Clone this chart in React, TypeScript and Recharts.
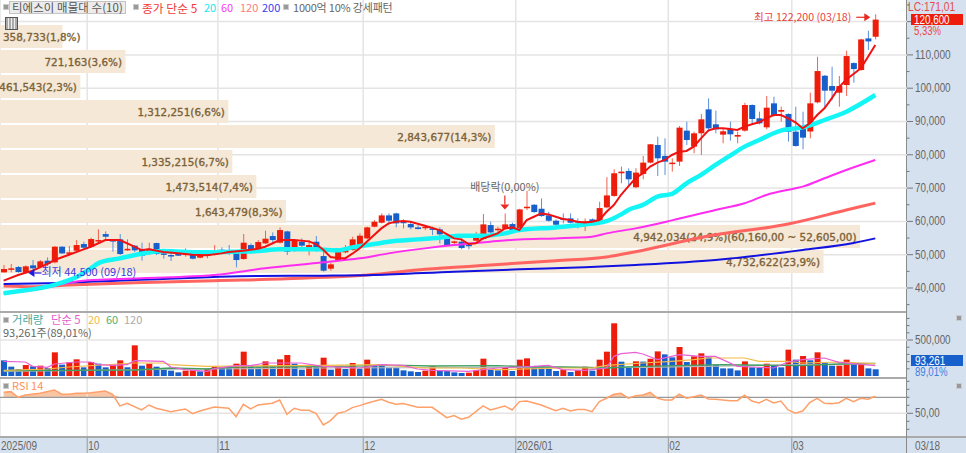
import React from "react";
import {
  ComposedChart, BarChart, Bar, Line, Area, XAxis, YAxis, CartesianGrid, ReferenceLine, ReferenceDot, Cell, LabelList,
} from "recharts";

// ---------- candles (index 0 = first trading day of the 2025/09 view) ----------
const opens = [44700,45600,46300,44600,46800,46300,48200,47700,52400,50400,51200,53200,52400,54200,56200,54400,54600,51300,52700,51400,51000,53500,50400,49900,50500,49900,50200,49100,49600,50100,51500,51100,50400,48700,52900,51600,53400,55600,53600,57000,51200,53900,51200,53900,49600,45800,48200,50700,51400,52800,54900,58400,59600,61800,62400,59900,59200,58200,58200,57900,57600,55200,53600,53900,53000,54200,54700,58900,57600,57800,59200,57100,64000,65000,63800,61800,60200,60900,60900,60100,59700,60600,59400,64200,67650,74450,75150,70250,74250,77650,82950,79650,77250,77950,87250,82450,86450,93650,89150,86050,87750,85450,87250,94950,90950,88250,95450,92950,92250,86950,87950,87000,95750,103750,100650,98650,100950,107550,105450,114950,115450];
const closes = [45700,45900,44800,46500,45900,48000,47200,52400,50400,50700,52900,52100,54700,54400,55400,54200,50200,51800,51300,49700,51800,50200,50200,49700,49700,50600,48800,49800,50600,51300,51100,50600,48400,53600,51600,53800,54800,54400,57400,50900,54400,52700,52900,51200,45200,47100,50900,51400,54600,55700,58200,59900,61800,60200,59400,59700,58200,57700,58400,57700,56100,52800,54000,52000,52800,55400,59100,56700,57800,59100,57400,63600,64400,62800,61600,60200,59000,60600,59600,59900,60000,59400,64000,67800,74450,74950,72650,74650,77650,83150,78950,77950,77650,88150,84450,86450,90650,87950,87650,87050,86150,85950,94950,90750,89450,94150,91850,93450,86950,82650,85150,95450,105150,99250,99250,100650,109650,105750,114650,114050,120600];
const highs = [46900,47200,46600,46800,48400,48400,49200,52600,52600,52600,54400,53900,55100,57600,57000,54600,56200,54600,52900,53600,53600,53600,51400,50700,50700,51900,50900,50400,51400,52900,52200,52900,51400,56200,53400,54400,57200,56700,58200,57200,54600,54900,54400,55600,51400,47600,51600,52900,55400,56400,58400,60400,62400,62400,62600,60600,59900,58900,58900,58400,58200,55900,54200,54900,53800,56900,62200,59900,58400,62400,59600,63800,69200,65200,66900,62900,60600,62400,62400,60900,60900,60900,65900,73300,75650,76450,75950,75950,79650,83250,85450,84950,78950,88650,89950,86950,92250,96950,93250,87950,89950,86950,95650,95150,92950,97650,97450,94450,92450,94450,92950,98650,109450,103950,106450,103650,111250,107750,114850,117250,122200];
const lows = [44600,44700,44600,44500,45000,46200,46600,47400,50200,49700,50900,51600,52200,53400,54400,50900,49900,51200,50800,48200,49900,49900,48800,48100,49600,49400,48600,48900,48900,49800,50200,49900,46200,48500,50400,51400,53200,53600,53400,49900,50900,52200,49800,50900,44900,45200,48000,50400,51200,52600,54600,58200,59400,58900,58200,57900,57600,57600,57400,55900,53400,52600,52600,51600,51600,54000,54500,56400,56400,57600,57000,57000,63400,62600,61400,59900,57900,59400,59400,57900,57100,58900,59200,63900,67400,71450,70450,69950,72650,77450,73650,73950,74950,76650,82950,80450,79950,86950,86450,83450,84250,83450,86950,89450,89150,87650,91450,89950,83950,82450,81650,84950,95450,93950,96450,94450,97650,101650,105250,111450,114650];

// ---------- volume ----------
const volumes = [217600,129600,97200,152800,134300,143500,111100,328700,157400,189800,231500,120400,194500,171300,120400,157400,217600,120400,426000,143500,171300,129600,101900,74100,50900,74100,78700,64800,101900,134300,115800,111100,171300,338000,134300,120400,203700,129600,231500,291700,171300,88000,125000,120400,254700,88000,129600,97200,180600,101900,226900,152800,152000,115800,115000,78700,64800,55600,74100,134300,69500,69000,50900,41700,46300,83300,240800,97200,78700,120400,69500,226900,245400,140000,135000,97200,69500,88000,55600,78700,129600,74100,226900,338000,732000,199000,129600,203700,200000,240000,342000,301000,259000,403000,194000,273000,315000,259000,157000,106000,105000,78000,203000,120000,115000,171300,139000,120000,366000,227000,278000,218000,329000,185000,143000,144000,227000,167000,168000,106000,93261];

const volMa5Pts: number[][] = [[0,203700],[3,194500],[4,134300],[6,120400],[7,166700],[10,194500],[12,194500],[13,157400],[15,148200],[17,157400],[18,213000],[22,203700],[23,125000],[25,88000],[28,64800],[29,101900],[32,143500],[34,143500],[36,180600],[41,180600],[43,148200],[44,134300],[49,111100],[52,157400],[55,148200],[57,97200],[59,78700],[64,64800],[68,111100],[73,134300],[75,148200],[77,88000],[80,78700],[83,111100],[84,273200],[85,310200],[87,328700],[88,305600],[90,226900],[93,296300],[96,273200],[98,273200],[101,134300],[103,125000],[106,111100],[108,194500],[110,226900],[113,250000],[115,189800],[120,143500]];
const volMa20Pts: number[][] = [[0,78700],[6,97200],[9,125000],[18,180600],[22,180600],[23,157400],[28,134300],[44,148200],[52,157400],[55,134300],[58,111100],[63,111100],[68,88000],[77,111100],[81,111100],[83,148200],[88,180600],[92,203700],[95,226900],[97,250000],[102,250000],[104,203700],[108,203700],[110,180600],[115,194500],[120,171300]];
const volMa60Pts: number[][] = [[0,74100],[18,83300],[23,111100],[28,97200],[32,125000],[44,129600],[52,143500],[55,148200],[59,138900],[68,143500],[73,125000],[77,125000],[83,111100],[88,134300],[99,157400],[110,143500],[115,166700],[120,175900]];
const volMa120Pts: number[][] = [[0,64800],[27,97200],[44,111100],[70,120400],[88,120400],[110,157400],[120,166700]];

// ---------- price moving averages, read at key points ----------
const ma5Pts: number[][] = [[0,42200],[2,43900],[4,45200],[6,47200],[7,48400],[9,50000],[11,51600],[12,52400],[14,54400],[16,54400],[18,52400],[19,51400],[20,51600],[22,50800],[24,50400],[26,50000],[28,49800],[30,50400],[31,50800],[33,51200],[35,51800],[36,52400],[38,54400],[40,54400],[42,54000],[43,53200],[44,51500],[45,49300],[46,49000],[47,48900],[48,50300],[49,51900],[50,53900],[51,55900],[52,57900],[53,59400],[54,59900],[55,60100],[56,59900],[58,58700],[60,57400],[61,56200],[62,54900],[63,54600],[64,53200],[65,53400],[66,54900],[67,55600],[68,56400],[69,57900],[70,58200],[71,57400],[72,60400],[73,61400],[74,62400],[75,62100],[76,61400],[77,60700],[78,60400],[79,59900],[80,59700],[81,59900],[82,60400],[83,62900],[84,64900],[85,68000],[86,70500],[87,72950],[88,74450],[89,76450],[90,77650],[91,78450],[92,79950],[93,80950],[94,81150],[95,82450],[96,84950],[97,87250],[98,87950],[99,87950],[100,87750],[101,87450],[102,88450],[103,89150],[104,89750],[105,90950],[106,91950],[107,91950],[108,90950],[109,89750],[110,87950],[111,89450],[112,91950],[113,93950],[114,96950],[115,100250],[116,102650],[117,104250],[118,105950],[119,109450],[120,112950]];
const ma20Pts: number[][] = [[0,38400],[2,39000],[6,40400],[8,41600],[10,43200],[12,45900],[13,47400],[16,48900],[19,50300],[22,51100],[27,50700],[32,50900],[35,51100],[38,51600],[43,51600],[46,51300],[48,52200],[51,53200],[53,53900],[57,54600],[60,55100],[63,55700],[66,55700],[69,56400],[71,57400],[76,58200],[80,59100],[83,60100],[85,62100],[86,63450],[88,64950],[90,67450],[92,68250],[94,71450],[96,73950],[98,76950],[100,79750],[102,82450],[104,84450],[107,87250],[110,88250],[113,90450],[116,92950],[120,97950]];
const ma60Pts: number[][] = [[0,38400],[4,39400],[11,42200],[23,43200],[29,43900],[36,45900],[44,47700],[49,48900],[53,50400],[58,51900],[62,52900],[67,53900],[71,54600],[76,54900],[81,55400],[83,56400],[87,57900],[92,60300],[98,63450],[102,65450],[105,67950],[109,69950],[110,70450],[113,72950],[116,75450],[120,78450]];
const ma120Pts: number[][] = [[0,40600],[4,40400],[9,40900],[18,41600],[29,42200],[41,42900],[44,43200],[50,43900],[58,45600],[67,46900],[76,48200],[83,49300],[87,50900],[97,55600],[108,59200],[116,63400],[120,65500]];
const ma200Pts: number[][] = [[0,41200],[6,41400],[18,42400],[35,43600],[44,43700],[51,43900],[62,44900],[71,45600],[80,46200],[87,46900],[98,48400],[110,51400],[117,53500],[120,54900]];

// ---------- RSI, read at key points ----------
const rsiPts: number[][] = [[0,76.3],[1,77.1],[2,70],[3,72.9],[5,75],[7,79.2],[8,73.8],[9,73.8],[10,75],[11,75],[12,75.8],[14,77.9],[15,73.8],[16,59.2],[17,62.5],[19,54.2],[20,60.4],[21,56.3],[23,52.1],[25,55.4],[26,49.6],[27,52.9],[29,57.9],[31,56.3],[32,45.8],[33,61.3],[34,55.4],[35,60.4],[37,62.5],[38,66.7],[39,48.8],[40,56.3],[41,53.8],[42,53.8],[43,50],[44,35.4],[45,40.8],[46,50],[47,52.1],[48,57.1],[49,59.6],[50,62.5],[52,67.5],[53,63.8],[54,61.3],[55,62.1],[57,57.5],[59,57.5],[61,44.6],[62,47.1],[63,42.5],[64,45],[66,59.2],[67,54.2],[69,59.2],[70,54.2],[71,64.6],[72,65.4],[74,60.4],[76,53.3],[77,56.3],[78,52.9],[79,54.6],[80,54.6],[81,52.1],[82,64.6],[83,68.8],[84,73.8],[85,75],[86,68.8],[87,72.1],[88,72.9],[89,76.3],[90,68.8],[91,66.7],[92,66.7],[93,73.8],[94,68.8],[95,70.8],[96,72.9],[97,67.9],[98,67.5],[100,65.8],[101,65.8],[102,72.5],[103,65.4],[104,62.9],[105,67.5],[106,62.9],[107,65.4],[108,54.2],[109,50],[110,52.9],[111,63.8],[112,68.8],[113,62.5],[114,62.1],[115,63.3],[116,68.8],[117,64.6],[118,68.8],[119,67.5],[120,71.3]];

// ---------- volume profile ----------
const profileValues = [358733,721163,461543,1312251,2843677,1335215,1473514,1643479,4942034,4732622];
const profileLabels = ["358,733(1,8%)","721,163(3,6%)","461,543(2,3%)","1,312,251(6,6%)","2,843,677(14,3%)","1,335,215(6,7%)","1,473,514(7,4%)","1,643,479(8,3%)","4,942,034(24,9%)(60,160,00 ~ 52,605,00)","4,732,622(23,9%)"];

// ---------- axes ----------
const monthStarts = [0,12,30,50,71,92,109];
const monthLabels = ["2025/09","10","11","12","2026/01","02","03"];
const priceMajor = [40000,50000,60000,70000,80000,90000,100000,110000,120000];
const priceTicks = [35000,40000,45000,50000,55000,60000,65000,70000,75000,80000,85000,90000,95000,100000,105000,110000,115000,120000,125000];

const SLOTS = 125;
const rows: any[] = Array.from({ length: SLOTS }, (_, i) => ({ idx: i }));
opens.forEach((o, i) => {
  const r = rows[i];
  r.open = o; r.close = closes[i]; r.high = highs[i]; r.low = lows[i];
  r.range = [lows[i], highs[i]];
  r.volume = volumes[i];
});
const put = (key: string, pts: number[][]) => pts.forEach(([i, v]) => { rows[i][key] = v; });
put("ma5", ma5Pts); put("ma20", ma20Pts); put("ma60", ma60Pts); put("ma120", ma120Pts); put("ma200", ma200Pts);
put("v5", volMa5Pts); put("v20", volMa20Pts); put("v60", volMa60Pts); put("v120", volMa120Pts);
put("rsi", rsiPts);
rows.forEach((r) => { if (r.rsi != null) r.rsiOver = [70, Math.max(70, r.rsi)]; });
const profileRows = profileValues.map((v, i) => ({ band: i, value: v, label: profileLabels[i] }));

const RED = "#ee1d0b";
const BLUE = "#1760cc";
const FONT = '"Noto Sans CJK KR", sans-serif';
const GRID = "#e4e4e4";
const W = 908;

// condensed numeric text: glyphs are stretched to the narrow width of the original bitmap font
const numLen = (s: string) => s.split("").reduce((a, ch) => a + (/[0-9]/.test(ch) ? 5.5 : /[,.]/.test(ch) ? 2.6 : ch === "%" ? 8 : /[A-Z]/.test(ch) ? 7 : 3), 0);
const Num = ({ x, y, s, fill, size = 12.5 }: any) => (
  <text x={x} y={y} fontSize={size} fontFamily="Liberation Sans" fill={fill} textLength={numLen(s)} lengthAdjust="spacingAndGlyphs">{s}</text>
);

const Candle = (p: any) => {
  const { x, y, width, height, payload } = p;
  if (payload.high == null) return null;
  const k = height / (payload.high - payload.low);
  const up = payload.close >= payload.open;
  const color = up ? RED : BLUE;
  const top = y + (payload.high - Math.max(payload.open, payload.close)) * k;
  const h = Math.max(1.5, Math.abs(payload.open - payload.close) * k);
  return (
    <g>
      <line x1={x + width / 2} x2={x + width / 2} y1={y} y2={y + height} stroke={up ? "#f0604f" : "#5a8fdc"} strokeWidth={1} />
      <rect x={x} y={top} width={width} height={h} fill={color} />
    </g>
  );
};

const ProfileLabel = (p: any) => {
  const { x, y, width, height, value } = p;
  const fits = value.length * 6 <= width;
  return (
    <text x={fits ? x + width - 3.5 : x + 3} y={y + height / 2 + 4} textAnchor={fits ? "end" : "start"}
      fontSize={10.4} fontFamily="DejaVu Sans" fill="#7c6238" stroke="#7c6238" strokeWidth={0.35}>{value}</text>
  );
};

const PriceTick = (p: any) => {
  const { x, y, payload } = p;
  const major = priceMajor.includes(payload.value);
  return (
    <g>
      <line x1={x - 1} x2={x + (major ? 5 : 1.5)} y1={y} y2={y} stroke="#777" />
      {major && payload.value !== 120000 ? <Num x={x + 7} y={y + 4} s={payload.value.toLocaleString("en-US")} fill="#666" /> : null}
    </g>
  );
};

const VolTick = (p: any) => {
  const { x, y, payload } = p;
  const major = payload.value === 500000;
  return (
    <g>
      <line x1={x - 1} x2={x + (major ? 5 : 1.5)} y1={y} y2={y} stroke="#777" />
      {major ? <Num x={x + 7} y={y + 4} s="500,000" fill="#666" /> : null}
    </g>
  );
};

const RsiTick = (p: any) => {
  const { x, y, payload } = p;
  const major = payload.value === 50;
  return (
    <g>
      <line x1={x - 1} x2={x + (major ? 5 : 1.5)} y1={y} y2={y} stroke="#777" />
      {major ? <Num x={x + 7} y={y + 4} s="50,00" fill="#666" /> : null}
    </g>
  );
};

const MonthTick = (p: any) => {
  const { x, y, payload } = p;
  const label = monthLabels[monthStarts.indexOf(payload.value)];
  return (
    <g>
      {payload.value > 0 ? <line x1={x - 3.6} x2={x - 3.6} y1={y} y2={y + 16} stroke="#999" /> : null}
      <Num x={x - 2.6} y={y + 13} s={label} fill="#666" size={13} />
    </g>
  );
};

const abs = (left: number, top: number, width: number, height: number, z: number): React.CSSProperties => ({
  position: "absolute", left, top, width, height, zIndex: z,
});

const T = ({ x, y, c, s = 11, children, ls }: any) => (
  <div style={{
    position: "absolute", left: x, top: y + 1, color: c, fontSize: s, lineHeight: "11px", letterSpacing: ls,
    fontFamily: FONT, whiteSpace: "nowrap", zIndex: 10,
  }}>{children}</div>
);
const Sq = ({ x, y }: any) => (
  <div style={{ position: "absolute", left: x, top: y, width: 4, height: 4, background: "#999", border: "1px solid #ccc", zIndex: 10 }} />
);

const months = monthStarts.map((m) => (
  <ReferenceLine key={m} x={m} position="start" stroke={GRID} strokeWidth={1.5} />
));

export default function App() {
  const margin = { top: 0, right: 0, bottom: 0, left: 0 };
  return (
    <div style={{ position: "fixed", left: 0, top: 0, width: 966, height: 453, overflow: "hidden", background: "#fff" }}>
      {/* axis panel + bottom strip */}
      <div style={abs(906, 0, 60, 453, 0)}>
        <div style={{ width: "100%", height: "100%", background: "#d6e1ef", borderLeft: "1px solid #8a8a8a", boxSizing: "border-box" }} />
      </div>
      <div style={{ ...abs(0, 436, 966, 17, 0), background: "#d6e1ef", borderTop: "2px solid #aaa", boxSizing: "border-box" }} />

      {/* price grid and axis */}
      <div style={abs(0, 0, 968, 311, 1)}>
        <ComposedChart width={968} height={311} data={rows} margin={margin}>
          <CartesianGrid vertical={false} horizontalValues={priceMajor} stroke={GRID} strokeWidth={1.5} />
          <XAxis dataKey="idx" hide scale="band" />
          <YAxis orientation="right" width={60} domain={[33093, 126486]} allowDataOverflow ticks={priceTicks} interval={0} axisLine={false} tickLine={false} tickSize={0} tickMargin={0} tick={<PriceTick />} />
          {months}
          <Bar dataKey="none" isAnimationActive={false} />
        </ComposedChart>
      </div>

      {/* volume profile */}
      <div style={abs(0, 24, W, 250, 2)}>
        <BarChart width={W} height={250} data={profileRows} layout="vertical" margin={margin} barSize={23}>
          <XAxis type="number" hide domain={[0, 5218000]} allowDataOverflow />
          <YAxis type="category" dataKey="band" hide />
          <Bar dataKey="value" fill="#f5e8d6" isAnimationActive={false}>
            <LabelList dataKey="label" content={<ProfileLabel />} />
          </Bar>
        </BarChart>
      </div>

      {/* candles and moving averages */}
      <div style={abs(0, 0, W, 311, 3)}>
        <ComposedChart width={W} height={311} data={rows} margin={margin}>
          <XAxis dataKey="idx" hide />
          <YAxis hide domain={[33093, 126486]} allowDataOverflow />
          <Line type="monotone" dataKey="ma120" stroke="#ff6460" strokeWidth={3} dot={false} activeDot={false} connectNulls isAnimationActive={false} />
          <Line type="monotone" dataKey="ma200" stroke="#1212e0" strokeWidth={2} dot={false} activeDot={false} connectNulls isAnimationActive={false} />
          <Line type="monotone" dataKey="ma60" stroke="#ff2cf2" strokeWidth={2} dot={false} activeDot={false} connectNulls isAnimationActive={false} />
          <Line type="monotone" dataKey="ma20" stroke="#14f5f5" strokeWidth={4.5} dot={false} activeDot={false} connectNulls isAnimationActive={false} />
          <Bar dataKey="range" barSize={6} shape={<Candle />} isAnimationActive={false} />
          <Line dataKey="ma5" stroke="#f01212" strokeWidth={2} dot={false} activeDot={false} connectNulls isAnimationActive={false} />
          <ReferenceDot x={120} y={122200} r={0} ifOverflow="visible" shape={(p: any) => (
            <g transform={`translate(${p.cx},${p.cy})`} fontFamily={FONT}>
              <text x={-24} y={7} textAnchor="end" fontSize={10.6} fill="#e8403a">최고 122,200 (03/18)</text>
              <line x1={-19} x2={-8} y1={3} y2={3} stroke="#e82a20" strokeWidth={1.2} />
              <path d="M-5 3 L-11 -1 L-11 7 Z" fill="#e82a20" />
            </g>
          )} />
          <ReferenceDot x={3} y={44500} r={0} ifOverflow="visible" shape={(p: any) => (
            <g transform={`translate(${p.cx},${p.cy})`} fontFamily={FONT}>
              <path d="M3 0 L9 -4 L9 4 Z" fill="#1a1ae0" />
              <line x1={9} x2={16} y1={0} y2={0} stroke="#1a1ae0" strokeWidth={1.2} />
              <text x={16} y={3} fontSize={11} fill="#3a3ae0">최저 44,500 (09/18)</text>
            </g>
          )} />
          <ReferenceDot x={69} y={62400} r={0} ifOverflow="visible" shape={(p: any) => (
            <g transform={`translate(${p.cx},${p.cy})`} fontFamily={FONT}>
              <text x={0} y={-22} textAnchor="middle" fontSize={11} fill="#666">배당락(0,00%)</text>
              <line x1={0} x2={0} y1={-18} y2={-9} stroke="#e82a20" strokeWidth={1.2} />
              <path d="M-4.5 -9 L4.5 -9 L0 -4 Z" fill="#e82a20" />
            </g>
          )} />
        </ComposedChart>
      </div>

      {/* volume pane */}
      <div style={{ ...abs(0, 311, 906, 1.5, 4), background: "#aaa" }} />
      <div style={abs(0, 312, 968, 64, 3)}>
        <ComposedChart width={968} height={64} data={rows} margin={margin}>
          <CartesianGrid vertical={false} horizontalValues={[500000]} stroke={GRID} strokeWidth={1.5} />
          <XAxis dataKey="idx" hide />
          <YAxis orientation="right" width={60} domain={[0, 889000]} allowDataOverflow ticks={[100000,200000,300000,400000,500000,600000,700000,800000]} interval={0} axisLine={false} tickLine={false} tickSize={0} tickMargin={0} tick={<VolTick />} />
          {months}
          <Bar dataKey="volume" barSize={6} isAnimationActive={false}>
            {rows.map((r, i) => (
              <Cell key={i} fill={i > 0 && r.volume != null && r.volume >= rows[i - 1].volume ? RED : BLUE} />
            ))}
          </Bar>
          <Line dataKey="v120" stroke="#b8b8b8" strokeWidth={1.2} dot={false} activeDot={false} connectNulls isAnimationActive={false} />
          <Line dataKey="v60" stroke="#3f9f60" strokeWidth={1.4} dot={false} activeDot={false} connectNulls isAnimationActive={false} />
          <Line dataKey="v20" stroke="#f2bb48" strokeWidth={1.2} dot={false} activeDot={false} connectNulls isAnimationActive={false} />
          <Line dataKey="v5" stroke="#e860d4" strokeWidth={1.2} dot={false} activeDot={false} connectNulls isAnimationActive={false} />
        </ComposedChart>
      </div>
      <div style={{ ...abs(0, 376.5, 906, 2.5, 4), background: "#aaa" }} />

      {/* RSI pane */}
      <div style={abs(0, 379, 968, 57, 3)}>
        <ComposedChart width={968} height={57} data={rows} margin={margin}>
          <CartesianGrid vertical={false} horizontalValues={[50]} stroke={GRID} strokeWidth={1.5} />
          <XAxis dataKey="idx" hide />
          <YAxis orientation="right" width={60} domain={[21.6, 92.9]} allowDataOverflow ticks={[30,40,50,60,70,80,90]} interval={0} axisLine={false} tickLine={false} tickSize={0} tickMargin={0} tick={<RsiTick />} />
          {months}
          <Area dataKey="rsiOver" stroke="none" fill="#f8c6a4" fillOpacity={1} connectNulls dot={false} activeDot={false} isAnimationActive={false} />
          <ReferenceLine y={70} stroke="#999" strokeWidth={1.2} />
          <Line dataKey="rsi" stroke="#ffa06a" strokeWidth={1.5} dot={false} activeDot={false} connectNulls isAnimationActive={false} />
          <Bar dataKey="none" isAnimationActive={false} />
        </ComposedChart>
      </div>

      {/* date strip */}
      <div style={abs(0, 437, W, 16, 3)}>
        <ComposedChart width={W} height={16} data={rows} margin={margin}>
          <XAxis dataKey="idx" ticks={monthStarts} interval={0} height={16} axisLine={false} tickLine={false} tickSize={0} tickMargin={0} tick={<MonthTick />} />
          <YAxis hide />
          <Bar dataKey="none" isAnimationActive={false} />
        </ComposedChart>
      </div>

      {/* legends */}
      <Sq x={3} y={4} />
      <div style={{ position: "absolute", left: 9, top: 1, width: 117, height: 13, background: "#ececec", border: "1px solid #c4c4c4", boxSizing: "border-box", zIndex: 9 }} />
      <T x={12} y={1} c="#555" s={11.4} ls="0.12px">티에스이 매물대 수(10)</T>
      <Sq x={133} y={4} />
      <T x={142} y={1} c="#f23a3a" s={11.8}>종가 단순 5</T>
      <T x={204} y={1} c="#19e6ee">20</T>
      <T x={221} y={1} c="#f53cf5">60</T>
      <T x={240} y={1} c="#ff7c7c">120</T>
      <T x={262} y={1} c="#3c3cf0">200</T>
      <Sq x={283} y={4} />
      <T x={293} y={1} c="#666" ls="-0.2px">1000억 10% 강세패턴</T>
      <div style={{ position: "absolute", left: 5, top: 17, width: 11, height: 11, border: "1px solid #555", background: "repeating-linear-gradient(90deg,#aaa 0 2px,#eee 2px 3px)", zIndex: 10 }} />

      <Sq x={3} y={317} />
      <T x={12} y={313} c="#4aa8a0" s={11.3}>거래량</T>
      <T x={51} y={313} c="#e45ccc" s={11.3}>단순 5</T>
      <T x={88} y={313} c="#f0bc48">20</T>
      <T x={106} y={313} c="#50b070">60</T>
      <T x={124} y={313} c="#aaa">120</T>
      <T x={3} y={326} c="#666">93,261주(89,01%)</T>

      <Sq x={3} y={383} />
      <T x={12} y={379} c="#ff9050">RSI 14</T>

      {/* value tags on the axis panel */}
      <div style={{ position: "absolute", left: 911, top: 14, width: 52, height: 11, background: RED, zIndex: 9 }} />
      <div style={{ position: "absolute", left: 911, top: 355, width: 52, height: 11, background: BLUE, zIndex: 9 }} />
      <svg width={966} height={453} style={{ position: "absolute", left: 0, top: 0, zIndex: 10, pointerEvents: "none" }}>
        <Num x={908} y={11} s="LC:171,01" fill="#e84a4a" />
        <Num x={914} y={24} s="120,600" fill="#fff" />
        <Num x={914} y={35} s="5,33%" fill="#e84a4a" />
        <Num x={915} y={365} s="93,261" fill="#fff" />
        <Num x={915} y={376} s="89,01%" fill="#3f7fe0" />
        <Num x={915} y={450} s="03/18" fill="#666" size={13} />
      </svg>
      <Sq x={956} y={315} />
      <Sq x={956} y={383} />
      <div style={{ position: "absolute", left: 906, top: 436, width: 1, height: 17, background: "#888", zIndex: 10 }} />
    </div>
  );
}
